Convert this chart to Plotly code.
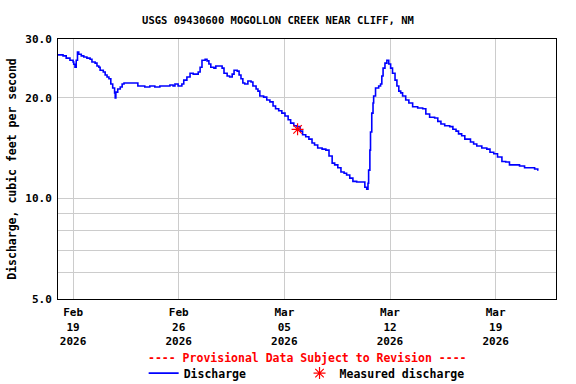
import pandas as pd
import plotly.graph_objects as go

# ---- data ----
start = pd.Timestamp("2026-02-18 00:00")
hours = [0, 8, 13, 19, 24, 25, 27, 29, 31, 33, 37, 41, 46, 51, 54, 59, 62, 65, 67, 72,
         75, 78, 81, 84, 87, 90, 91, 92, 95, 99, 102, 105, 124, 127, 138, 146, 154, 162, 170, 178,
         183, 186, 191, 197, 200, 205, 210, 215, 219, 223, 226, 229, 234, 237, 240, 243, 248, 251, 256, 261,
         264, 269, 273, 277, 280, 285, 288, 291, 294, 297, 302, 307, 310, 315, 318, 321, 327, 332, 337, 342,
         346, 351, 356, 361, 366, 370, 375, 380, 385, 389, 394, 399, 404, 408, 413, 420, 426, 431, 436, 440,
         445, 450, 455, 459, 464, 469, 475, 483, 488, 491, 493, 494, 496, 497, 499, 501, 502, 505, 510, 513,
         515, 517, 520, 523, 526, 529, 532, 536, 539, 542, 545, 548, 553, 558, 564, 572, 580, 585, 591, 599,
         604, 609, 615, 623, 628, 633, 637, 642, 647, 652, 656, 661, 666, 674, 682, 687, 693, 699, 706, 712,
         718, 726, 734, 742, 750, 755, 758, 763]
discharge = [26.9, 26.7, 26.3, 25.9, 25.6, 25.2, 24.7, 25.9, 27.4, 27.0, 26.7, 26.5, 26.3, 26.1, 25.6, 25.4, 24.9, 24.7, 24.2, 23.9,
             23.4, 23.1, 22.8, 22.0, 21.4, 20.7, 20.0, 20.8, 21.25, 21.55, 22.0, 22.15, 22.15, 21.7, 21.55, 21.7, 21.55, 21.7, 21.7, 21.85,
             21.7, 22.0, 21.7, 22.0, 22.6, 23.1, 23.7, 23.55, 23.55, 23.9, 24.7, 25.9, 26.1, 25.8, 25.25, 24.7, 24.55, 24.9, 24.9, 24.55,
             23.7, 23.25, 23.1, 23.55, 24.2, 24.05, 23.4, 22.8, 22.15, 22.0, 22.45, 22.3, 21.7, 21.25, 20.95, 20.25, 20.1, 19.7, 19.45, 18.9,
             18.55, 18.3, 18.0, 17.65, 17.2, 16.8, 16.5, 16.4, 15.9, 15.5, 15.3, 15.05, 14.65, 14.45, 14.15, 14.05, 13.95, 13.4, 12.75, 12.6,
             12.35, 12.0, 11.9, 11.75, 11.5, 11.25, 11.2, 11.2, 10.8, 10.65, 11.1, 12.15, 13.95, 15.8, 18.0, 19.3, 20.25, 21.4, 21.7, 22.0,
             23.25, 24.55, 25.4, 25.9, 25.25, 24.55, 23.7, 22.6, 21.7, 20.95, 20.7, 20.25, 19.7, 19.3, 18.8, 18.65, 18.55, 17.9, 17.5, 17.4,
             17.0, 16.7, 16.5, 16.4, 16.1, 15.9, 15.6, 15.4, 15.05, 15.05, 14.75, 14.55, 14.35, 14.15, 14.05, 13.75, 13.6, 13.3, 12.9, 12.85,
             12.6, 12.6, 12.5, 12.35, 12.35, 12.35, 12.25, 12.1]
measured_time = ["2026-03-05 21:00"]
measured_value = [16.1]

x_tick_dates = ["2026-02-19", "2026-02-26", "2026-03-05", "2026-03-12", "2026-03-19"]
x_tick_labels = ["Feb<br>19<br>2026", "Feb<br>26<br>2026", "Mar<br>05<br>2026", "Mar<br>12<br>2026", "Mar<br>19<br>2026"]
y_tick_vals = [5, 10, 20, 30]
y_tick_labels = ["5.0", "10.0", "20.0", "30.0"]
y_minor_vals = [6, 7, 8, 9]

times = [start + pd.Timedelta(hours=h) for h in hours]

FONT = "DejaVu Sans Mono"
LEGEND_FONT = dict(family=FONT, size=11.5, color="black", weight="bold")

fig = go.Figure()
fig.add_trace(go.Scatter(
    x=times, y=discharge, mode="lines", name="Discharge", legend="legend",
    line=dict(color="#0000FF", width=1.6, shape="hv"),
))
fig.add_trace(go.Scatter(
    x=pd.to_datetime(measured_time), y=measured_value, mode="markers", name="Measured discharge",
    legend="legend2",
    marker=dict(symbol="asterisk-open", size=10, color="#FF0000", line=dict(color="#FF0000", width=1.2)),
))

fig.update_layout(
    width=576, height=384,
    margin=dict(l=58, r=20, t=39, b=85, autoexpand=False),
    paper_bgcolor="white", plot_bgcolor="white",
    font=dict(family=FONT, size=11, color="black", weight="bold"),
    title=dict(text="USGS 09430600 MOGOLLON CREEK NEAR CLIFF, NM",
               x=278 / 576, xanchor="center",
               y=1 - 20 / 384, yanchor="middle",
               font=dict(family=FONT, size=10.5, color="black", weight="bold")),
    showlegend=True,
    legend=dict(orientation="h", x=0.172, xanchor="left", y=-0.285, yanchor="middle",
                bgcolor="rgba(0,0,0,0)", font=LEGEND_FONT, itemwidth=30),
    legend2=dict(orientation="h", x=0.485, xanchor="left", y=-0.285, yanchor="middle",
                 bgcolor="rgba(0,0,0,0)", font=LEGEND_FONT, itemwidth=30),
    annotations=[dict(text="---- Provisional Data Subject to Revision ----",
                      x=0.5, xref="paper", y=-0.227, yref="paper",
                      xanchor="center", yanchor="middle", showarrow=False,
                      font=dict(family=FONT, size=11.5, color="#FF0000", weight="bold"))],
)

fig.update_xaxes(
    type="date", automargin=False,
    range=[pd.Timestamp("2026-02-18"), pd.Timestamp("2026-03-23")],
    tickmode="array", tickvals=pd.to_datetime(x_tick_dates), ticktext=x_tick_labels,
    showgrid=True, gridcolor="#CCCCCC", gridwidth=1,
    showline=True, linecolor="black", linewidth=1, mirror=True,
    ticks="", zeroline=False, ticklabelstandoff=3,
    tickfont=dict(family=FONT, size=11, weight="bold"),
)
fig.update_yaxes(
    type="log", automargin=False,
    range=[0.69897, 1.4771213],
    tickmode="array", tickvals=y_tick_vals, ticktext=y_tick_labels,
    showgrid=True, gridcolor="#CCCCCC", gridwidth=1,
    minor=dict(tickmode="array", tickvals=y_minor_vals, showgrid=True, gridcolor="#CCCCCC", gridwidth=1, ticks=""),
    showline=True, linecolor="black", linewidth=1, mirror=True,
    ticks="", zeroline=False, ticklabelstandoff=3,
    title=dict(text="Discharge, cubic feet per second", standoff=6,
               font=dict(family=FONT, size=11.5, weight="bold")),
    tickfont=dict(family=FONT, size=11, weight="bold"),
)

fig.write_html("out.html", config={"displayModeBar": False},
               post_script="document.body.style.margin='0';document.body.style.padding='0';")
